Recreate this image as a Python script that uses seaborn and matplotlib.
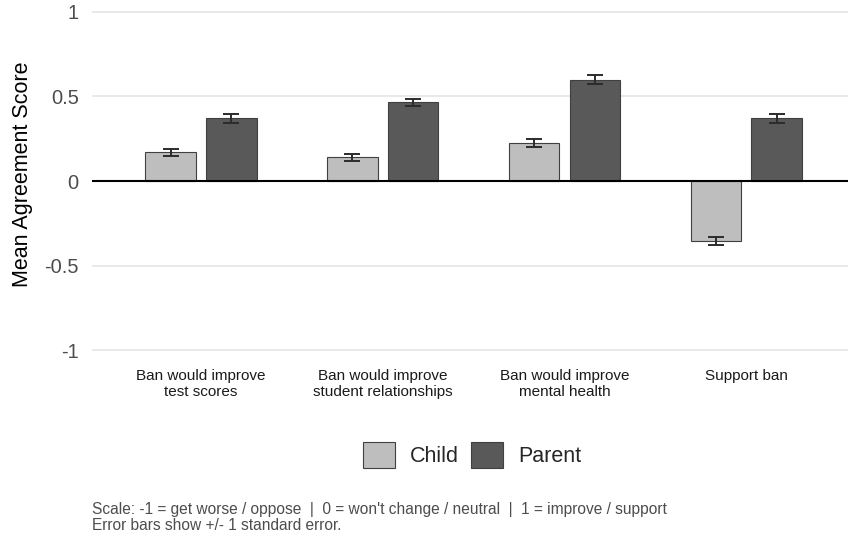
import matplotlib
matplotlib.use("Agg")
import matplotlib.pyplot as plt
import seaborn as sns
import pandas as pd
from matplotlib.patches import Patch

# Survey items and results
questions = [
    "Ban would improve\ntest scores",
    "Ban would improve\nstudent relationships",
    "Ban would improve\nmental health",
    "Support ban",
]
groups = ["Child", "Parent"]
child_mean = [0.17, 0.14, 0.225, -0.355]
parent_mean = [0.37, 0.465, 0.60, 0.37]
child_se = [0.022, 0.022, 0.025, 0.023]
parent_se = [0.025, 0.022, 0.025, 0.024]
y_ticks = [-1, -0.5, 0, 0.5, 1]
y_tick_labels = ["-1", "-0.5", "0", "0.5", "1"]
caption = ("Scale: -1 = get worse / oppose  |  0 = won't change / neutral  |  1 = improve / support\n"
           "Error bars show +/- 1 standard error.")

df = pd.DataFrame({
    "question": questions * 2,
    "group": ["Child"] * len(questions) + ["Parent"] * len(questions),
    "mean": child_mean + parent_mean,
    "se": child_se + parent_se,
})

sns.set_theme(style="white")
plt.rcParams["font.family"] = ["Liberation Sans", "DejaVu Sans"]

colors = {"Child": "#bebebe", "Parent": "#595959"}

fig = plt.figure(figsize=(8.48, 5.37), dpi=100)
ax = fig.add_axes([0.1085, 0.332, 0.8915, 0.668])

# reference lines
for t in y_ticks:
    if t != 0:
        ax.axhline(t, color="#e3e3e3", lw=1.1, zorder=0)

sns.barplot(data=df, x="question", y="mean", hue="group", order=questions,
            hue_order=groups, palette=colors, width=0.667, gap=0.167,
            edgecolor="#404040", linewidth=0.8, errorbar=None, ax=ax,
            legend=False, zorder=2)

ax.axhline(0, color="black", lw=1.5, zorder=3)

# standard-error bars on each bar
for container, g in zip(ax.containers, groups):
    sub = df[df["group"] == g].set_index("question").loc[questions]
    xs = [p.get_x() + p.get_width() / 2 for p in container.patches]
    ax.errorbar(xs, sub["mean"].values, yerr=sub["se"].values, fmt="none",
                ecolor="#2b2b2b", elinewidth=1.4, capsize=6, capthick=1.4,
                zorder=4)

ax.set_xlim(-0.6, 3.56)
ax.set_ylim(-1.05, 1.07)
ax.set_yticks(y_ticks)
ax.set_yticklabels(y_tick_labels)
ax.tick_params(axis="y", labelsize=14.5, labelcolor="#4d4d4d", length=0, pad=9.5)
ax.tick_params(axis="x", labelsize=11, labelcolor="#1a1a1a", length=0, pad=7.5)
for lbl in ax.get_xticklabels():
    lbl.set_linespacing(1.15)
ax.set_xlabel("")
ax.set_ylabel("Mean Agreement Score", fontsize=15.5, color="black")
ax.yaxis.set_label_coords(-0.078, 0.513)
for s in ax.spines.values():
    s.set_visible(False)
ax.grid(False)

handles = [Patch(facecolor=colors[g], edgecolor="#404040", linewidth=0.8, label=g)
           for g in groups]
fig.legend(handles=handles, loc="center", bbox_to_anchor=(0.557, 0.152),
           ncol=2, frameon=False, fontsize=15.5, handlelength=1.49,
           handleheight=1.49, handletextpad=0.7, columnspacing=0.56)

fig.text(0.1085, 0.066, caption, fontsize=11.2, color="#4d4d4d",
         ha="left", va="top", linespacing=1.15)

fig.savefig("out.png", dpi=100)
